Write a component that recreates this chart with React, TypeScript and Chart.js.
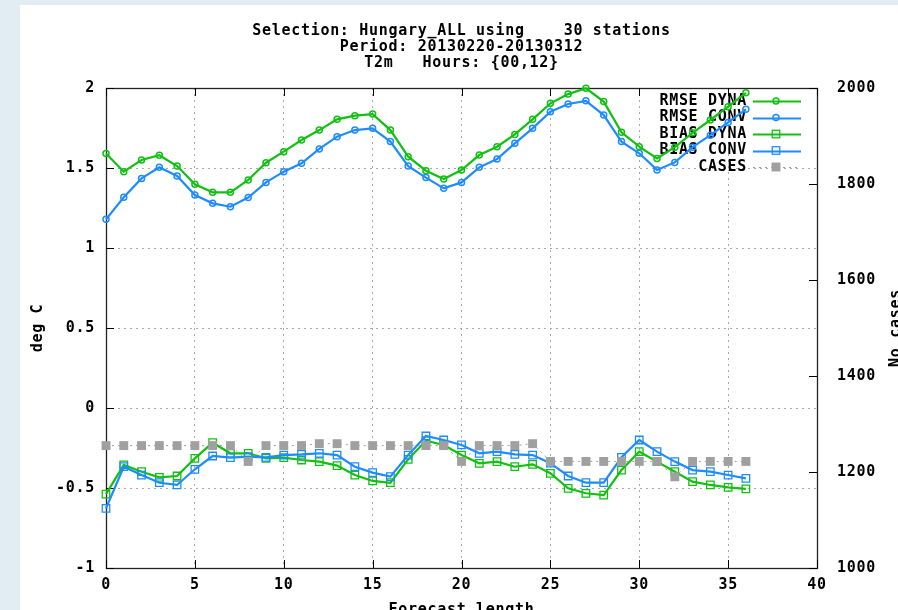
import React, { useEffect, useRef } from 'react';
import { Chart, registerables } from 'chart.js';

Chart.register(...registerables);

const FONT = '"DejaVu Sans Mono", "Liberation Mono", monospace';

const titleLines = [
  'Selection: Hungary_ALL using    30 stations',
  'Period: 20130220-20130312',
  'T2m   Hours: {00,12}',
];

const forecastSteps = [0, 1, 2, 3, 4, 5, 6, 7, 8, 9, 10, 11, 12, 13, 14, 15, 16, 17, 18, 19, 20, 21, 22, 23, 24, 25, 26, 27, 28, 29, 30, 31, 32, 33, 34, 35, 36];

const rmseDyna = [1.59, 1.477, 1.55, 1.58, 1.512, 1.398, 1.348, 1.348, 1.425, 1.533, 1.602, 1.675, 1.737, 1.804, 1.827, 1.837, 1.737, 1.571, 1.483, 1.431, 1.487, 1.581, 1.633, 1.71, 1.804, 1.904, 1.962, 1.998, 1.915, 1.723, 1.633, 1.56, 1.63, 1.72, 1.8, 1.883, 1.97];
const rmseConv = [1.179, 1.317, 1.435, 1.504, 1.45, 1.331, 1.279, 1.258, 1.315, 1.41, 1.477, 1.529, 1.619, 1.696, 1.737, 1.748, 1.665, 1.512, 1.44, 1.373, 1.41, 1.504, 1.556, 1.654, 1.748, 1.852, 1.9, 1.92, 1.831, 1.665, 1.592, 1.488, 1.535, 1.63, 1.705, 1.785, 1.867];
const biasDyna = [-0.538, -0.356, -0.398, -0.433, -0.425, -0.315, -0.217, -0.283, -0.283, -0.315, -0.31, -0.325, -0.335, -0.36, -0.419, -0.456, -0.467, -0.321, -0.204, -0.231, -0.294, -0.346, -0.335, -0.367, -0.352, -0.408, -0.502, -0.533, -0.544, -0.388, -0.273, -0.335, -0.398, -0.46, -0.481, -0.496, -0.506];
const biasConv = [-0.627, -0.367, -0.419, -0.467, -0.481, -0.383, -0.3, -0.31, -0.304, -0.308, -0.294, -0.29, -0.283, -0.294, -0.367, -0.404, -0.429, -0.294, -0.175, -0.2, -0.231, -0.283, -0.273, -0.29, -0.294, -0.345, -0.425, -0.467, -0.467, -0.308, -0.2, -0.273, -0.335, -0.388, -0.398, -0.419, -0.44];
const cases = [1255, 1255, 1255, 1255, 1255, 1255, 1255, 1255, 1222, 1255, 1255, 1255, 1259, 1259, 1255, 1255, 1255, 1255, 1255, 1255, 1222, 1255, 1255, 1255, 1259, 1222, 1222, 1222, 1222, 1222, 1222, 1222, 1190, 1222, 1222, 1222, 1222];

const xTickLabels = ['0', '5', '10', '15', '20', '25', '30', '35', '40'];
const yTickLabels = ['-1', '-0.5', '0', '0.5', '1', '1.5', '2'];
const y2TickLabels = ['1000', '1200', '1400', '1600', '1800', '2000'];

const GREEN = '#12c012';
const BLUE = '#1e8cff';
const GRAY = '#a0a0a0';
const GRID = '#a8a8a8';

const toXY = (vals: number[]) => forecastSteps.map((x, i) => ({ x, y: vals[i] }));

const gnuPlugin = {
  id: 'gnuStyle',
  beforeDraw(chart: any) {
    try { chart.ctx.letterSpacing = '0.7px'; } catch (e) { /* ignore */ }
  },
  beforeDatasetsDraw(chart: any) {
    const { ctx, chartArea: a, scales } = chart;
    ctx.save();
    // frame
    ctx.strokeStyle = '#222';
    ctx.lineWidth = 1.3;
    ctx.setLineDash([]);
    ctx.strokeRect(a.left + 0.5, a.top + 0.5, a.right - a.left, a.bottom - a.top);
    // inward ticks
    ctx.strokeStyle = '#000';
    ctx.lineWidth = 1;
    ctx.beginPath();
    scales.x.ticks.forEach((t: any) => {
      const px = Math.round(scales.x.getPixelForValue(t.value)) + 0.5;
      ctx.moveTo(px, a.bottom);
      ctx.lineTo(px, a.bottom - 8);
      ctx.moveTo(px, a.top);
      ctx.lineTo(px, a.top + 8);
    });
    scales.y.ticks.forEach((t: any) => {
      const py = Math.round(scales.y.getPixelForValue(t.value)) + 0.5;
      ctx.moveTo(a.left, py);
      ctx.lineTo(a.left + 8, py);
    });
    scales.y2.ticks.forEach((t: any) => {
      const py = Math.round(scales.y2.getPixelForValue(t.value)) + 0.5;
      ctx.moveTo(a.right, py);
      ctx.lineTo(a.right - 8, py);
    });
    ctx.stroke();

    // key (legend)
    ctx.font = `bold 15px ${FONT}`;
    ctx.textAlign = 'right';
    ctx.textBaseline = 'middle';
    const textRight = 727;
    const lineL = 733;
    const lineR = 781;
    const markX = 756;
    chart.data.datasets.forEach((ds: any, i: number) => {
      const y = 96 + i * 16.5;
      ctx.fillStyle = '#000';
      ctx.fillText(ds.label, textRight, y);
      ctx.strokeStyle = ds.borderColor;
      ctx.lineWidth = ds.borderWidth;
      ctx.setLineDash(ds.borderDash || []);
      ctx.beginPath();
      ctx.moveTo(lineL, Math.round(y) + 0.5);
      ctx.lineTo(lineR, Math.round(y) + 0.5);
      ctx.stroke();
      ctx.setLineDash([]);
      const r = ds.pointRadius;
      if (ds.pointStyle === 'circle') {
        ctx.lineWidth = ds.pointBorderWidth;
        ctx.strokeStyle = ds.pointBorderColor;
        ctx.beginPath();
        ctx.arc(markX, y, r, 0, Math.PI * 2);
        ctx.stroke();
      } else {
        const s = Math.SQRT1_2 * r;
        if (ds.pointBackgroundColor && ds.pointBackgroundColor !== 'transparent') {
          ctx.fillStyle = ds.pointBackgroundColor;
          ctx.fillRect(markX - s, y - s, 2 * s, 2 * s);
        } else {
          ctx.lineWidth = ds.pointBorderWidth;
          ctx.strokeStyle = ds.pointBorderColor;
          ctx.strokeRect(markX - s, y - s, 2 * s, 2 * s);
        }
      }
    });

    // right axis title (reads bottom to top)
    ctx.save();
    ctx.translate(876, (a.top + a.bottom) / 2);
    ctx.rotate(-Math.PI / 2);
    ctx.textAlign = 'center';
    ctx.textBaseline = 'middle';
    ctx.fillStyle = '#000';
    ctx.fillText('No cases', 0, 0);
    ctx.restore();

    ctx.restore();
  },
};

export default function App() {
  const ref = useRef<HTMLCanvasElement>(null);

  useEffect(() => {
    const canvas = ref.current;
    if (!canvas) return;
    const tickFont = { family: FONT, size: 15, weight: 'bold' as const, lineHeight: '16px' };
    const gridColor = (edge: number[]) => (c: any) =>
      c.tick && edge.includes(c.tick.value) ? 'rgba(0,0,0,0)' : GRID;

    const chart = new Chart(canvas, {
      type: 'line',
      data: {
        datasets: [
          {
            label: 'RMSE DYNA', data: toXY(rmseDyna), yAxisID: 'y', order: 4,
            borderColor: GREEN, borderWidth: 2.2, pointStyle: 'circle', pointRadius: 3,
            pointBorderColor: GREEN, pointBackgroundColor: 'transparent', pointBorderWidth: 1.5,
            tension: 0, clip: false,
          },
          {
            label: 'RMSE CONV', data: toXY(rmseConv), yAxisID: 'y', order: 3,
            borderColor: BLUE, borderWidth: 2.2, pointStyle: 'circle', pointRadius: 3,
            pointBorderColor: BLUE, pointBackgroundColor: 'transparent', pointBorderWidth: 1.5,
            tension: 0, clip: false,
          },
          {
            label: 'BIAS DYNA', data: toXY(biasDyna), yAxisID: 'y', order: 2,
            borderColor: GREEN, borderWidth: 2.2, pointStyle: 'rect', pointRadius: 5.3,
            pointBorderColor: GREEN, pointBackgroundColor: 'transparent', pointBorderWidth: 1.3,
            tension: 0, clip: false,
          },
          {
            label: 'BIAS CONV', data: toXY(biasConv), yAxisID: 'y', order: 1,
            borderColor: BLUE, borderWidth: 2.2, pointStyle: 'rect', pointRadius: 5.3,
            pointBorderColor: BLUE, pointBackgroundColor: 'transparent', pointBorderWidth: 1.3,
            tension: 0, clip: false,
          },
          {
            label: 'CASES', data: toXY(cases), yAxisID: 'y2', order: 0,
            borderColor: GRAY, borderWidth: 1, borderDash: [2, 4], pointStyle: 'rect', pointRadius: 6.3,
            pointBorderColor: GRAY, pointBackgroundColor: GRAY, pointBorderWidth: 0,
            tension: 0, clip: false,
          },
        ] as any,
      },
      options: {
        responsive: false,
        devicePixelRatio: 1,
        animation: false,
        events: [],
        layout: { padding: 0 },
        plugins: {
          legend: { display: false },
          tooltip: { enabled: false },
          title: {
            display: true,
            text: titleLines,
            color: '#000',
            font: tickFont,
            padding: { top: 18, bottom: 17 },
          },
        },
        scales: {
          x: {
            type: 'linear',
            position: 'bottom',
            min: 0,
            max: 40,
            afterFit: (s: any) => { s.height = 57; },
            ticks: {
              stepSize: 5,
              color: '#000',
              font: tickFont,
              padding: 9,
              maxRotation: 0,
              callback: (_v: any, i: number) => xTickLabels[i],
            },
            grid: { color: gridColor([0, 40]), lineWidth: 1, drawTicks: false },
            border: { display: false, dash: [2, 4] },
            title: {
              display: true,
              text: 'Forecast length',
              color: '#000',
              font: tickFont,
              padding: { top: 0, bottom: 7 },
            },
          },
          y: {
            type: 'linear',
            position: 'left',
            min: -1,
            max: 2,
            afterFit: (s: any) => { s.width = 86; },
            ticks: {
              stepSize: 0.5,
              color: '#000',
              font: tickFont,
              padding: 11,
              callback: (_v: any, i: number) => yTickLabels[i],
            },
            grid: { color: gridColor([-1, 2]), lineWidth: 1, drawTicks: false },
            border: { display: false, dash: [2, 4] },
            title: {
              display: true,
              text: 'deg C',
              color: '#000',
              font: tickFont,
              padding: { top: 10, bottom: 0 },
            },
          },
          y2: {
            type: 'linear',
            position: 'right',
            min: 1000,
            max: 2000,
            afterFit: (s: any) => { s.width = 86; },
            ticks: {
              stepSize: 200,
              color: '#000',
              font: tickFont,
              padding: 20,
              callback: (_v: any, i: number) => y2TickLabels[i],
            },
            grid: { drawOnChartArea: false, drawTicks: false },
            border: { display: false },
          },
        },
      } as any,
      plugins: [gnuPlugin],
    });
    return () => chart.destroy();
  }, []);

  return (
    <div style={{ position: 'fixed', inset: 0, background: '#e2ecf3', overflow: 'hidden' }}>
      <div style={{ position: 'absolute', left: 20, top: 5, width: 900, height: 620, background: '#fff' }}>
        <canvas ref={ref} width={883} height={620} style={{ display: 'block', width: 883, height: 620 }} />
      </div>
    </div>
  );
}
